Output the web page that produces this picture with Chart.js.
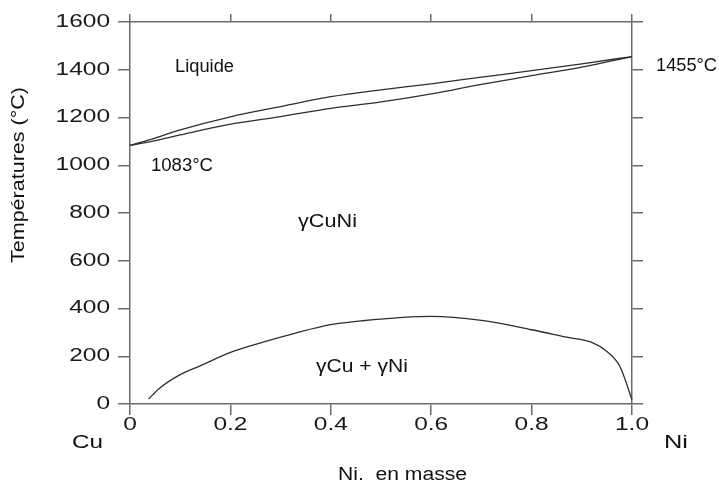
<!DOCTYPE html>
<html><head><meta charset="utf-8">
<script src="https://cdn.jsdelivr.net/npm/chart.js@4/dist/chart.umd.min.js"></script>
<style>html,body{margin:0;padding:0;background:#fff}canvas{display:block}</style>
</head><body>
<canvas id="c" width="719" height="485"></canvas>
<script>
// ---- data ----
const liquidusX = [0, 0.05, 0.1, 0.2, 0.3, 0.4, 0.5, 0.6, 0.7, 0.8, 0.9, 1.0];
const liquidusT = [1083, 1114, 1148, 1203, 1246, 1287, 1316, 1341, 1369, 1396, 1425, 1455];
const solidusX = [0, 0.05, 0.1, 0.2, 0.3, 0.4, 0.5, 0.6, 0.7, 0.8, 0.9, 1.0];
const solidusT = [1083, 1103, 1127, 1172, 1204, 1238, 1265, 1299, 1339, 1375, 1411, 1455];
const gapX = [0.037, 0.06, 0.1, 0.14, 0.2, 0.27, 0.33, 0.4, 0.46, 0.6, 0.7, 0.8, 0.87, 0.92, 0.95, 0.976, 1.0];
const gapT = [21, 68, 123, 160, 216, 262, 297, 332, 348, 367, 350, 311, 280, 258, 220, 157, 18];
const xTickLabels = ['0', '0.2', '0.4', '0.6', '0.8', '1.0'];
const yTickLabels = ['0', '200', '400', '600', '800', '1000', '1200', '1400', '1600'];
const regionLabels = ['Liquide', '1083°C', '1455°C', 'γCuNi', 'γCu + γNi', 'Cu', 'Ni'];
const xTitle = 'Ni.  en masse';
const yTitle = 'Températures (°C)';

// ---- text placement (pixels) ----
const FONT = '"Liberation Sans", Arial, Helvetica, sans-serif';
const TICK_STRETCH = 1.36;
const textLayout = [
  {text: regionLabels[0], x: 175, y: 67, w: 59, size: 18},
  {text: regionLabels[1], x: 151, y: 166, w: 62, size: 18},
  {text: regionLabels[2], x: 656, y: 66, w: 61, size: 18},
  {text: regionLabels[3], x: 298, y: 222, w: 59, size: 18},
  {text: regionLabels[4], x: 316, y: 367, w: 92, size: 18},
  {text: regionLabels[5], x: 72, y: 443, w: 31, size: 18},
  {text: regionLabels[6], x: 664, y: 443, w: 24, size: 18},
  {text: xTitle, x: 338, y: 475, w: 129, size: 18},
  {text: yTitle, x: 19, y: 263, w: 176, size: 18, rot: -Math.PI / 2}
];

const AXIS = '#6b6b6b';
const LINE = '#2e2e2e';

// stretch tick labels horizontally around their anchor point (library still places them)
const origDrawLabels = Chart.Scale.prototype.drawLabels;
Chart.Scale.prototype.drawLabels = function (area) {
  const c = this.ctx;
  const proto = Object.getPrototypeOf(c);
  const of = proto.fillText;
  c.fillText = function (t, x, y) {
    this.save();
    this.translate(x, y);
    this.scale(TICK_STRETCH, 1);
    of.call(this, t, 0, 0);
    this.restore();
  };
  try { origDrawLabels.call(this, area); } finally { delete c.fillText; }
};

const bgPlugin = {
  id: 'bg',
  beforeDraw(chart) {
    const c = chart.ctx;
    c.save();
    c.fillStyle = '#ffffff';
    c.fillRect(0, 0, chart.width, chart.height);
    c.restore();
  }
};

const textPlugin = {
  id: 'texts',
  afterDraw(chart) {
    const c = chart.ctx;
    c.save();
    c.fillStyle = '#111';
    c.textBaseline = 'middle';
    c.textAlign = 'left';
    for (const t of textLayout) {
      c.font = t.size + 'px ' + FONT;
      const mw = c.measureText(t.text).width;
      c.save();
      c.translate(t.x, t.y);
      if (t.rot) c.rotate(t.rot);
      c.scale(t.w / mw, 1);
      c.fillText(t.text, 0, 0);
      c.restore();
    }
    c.restore();
  }
};

const lineDS = (label, xs, ys) => ({
  label,
  data: xs.map((x, i) => ({x, y: ys[i]})),
  showLine: true,
  borderColor: LINE,
  borderWidth: 1.3,
  pointRadius: 0,
  cubicInterpolationMode: 'monotone',
  fill: false,
  clip: false
});

const gridOpts = (tl) => ({drawOnChartArea: false, drawTicks: true, tickLength: tl, color: AXIS, lineWidth: 1.5});
const borderOpts = {display: true, color: AXIS, width: 1.5};

new Chart(document.getElementById('c').getContext('2d'), {
  type: 'scatter',
  data: {
    datasets: [
      lineDS('Liquidus', liquidusX, liquidusT),
      lineDS('Solidus', solidusX, solidusT),
      lineDS('Lacune de miscibilité', gapX, gapT)
    ]
  },
  options: {
    responsive: false,
    animation: false,
    devicePixelRatio: 1,
    layout: {padding: 0},
    plugins: {legend: {display: false}, tooltip: {enabled: false}},
    scales: {
      x: {
        type: 'linear', position: 'bottom', min: 0, max: 1,
        ticks: {
          stepSize: 0.2, padding: -1, maxRotation: 0, autoSkip: false,
          color: '#1a1a1a', font: {family: FONT, size: 18},
          callback: (v) => xTickLabels[Math.round(v / 0.2)]
        },
        grid: gridOpts(11), border: borderOpts,
        afterFit(s) { s.height = 81; }
      },
      x2: {
        type: 'linear', position: 'top', min: 0, max: 1,
        ticks: {display: false, stepSize: 0.2},
        grid: gridOpts(8), border: borderOpts,
        afterFit(s) { s.height = 22; }
      },
      y: {
        type: 'linear', position: 'left', min: 0, max: 1600,
        ticks: {
          stepSize: 200, padding: 8, color: '#1a1a1a', font: {family: FONT, size: 18},
          callback: (v) => yTickLabels[Math.round(v / 200)]
        },
        grid: gridOpts(12), border: borderOpts,
        afterFit(s) { s.width = 130; }
      },
      y2: {
        type: 'linear', position: 'right', min: 0, max: 1600,
        ticks: {display: false, stepSize: 200},
        grid: gridOpts(11), border: borderOpts,
        afterFit(s) { s.width = 87; }
      }
    }
  },
  plugins: [bgPlugin, textPlugin]
});
</script>
</body></html>
